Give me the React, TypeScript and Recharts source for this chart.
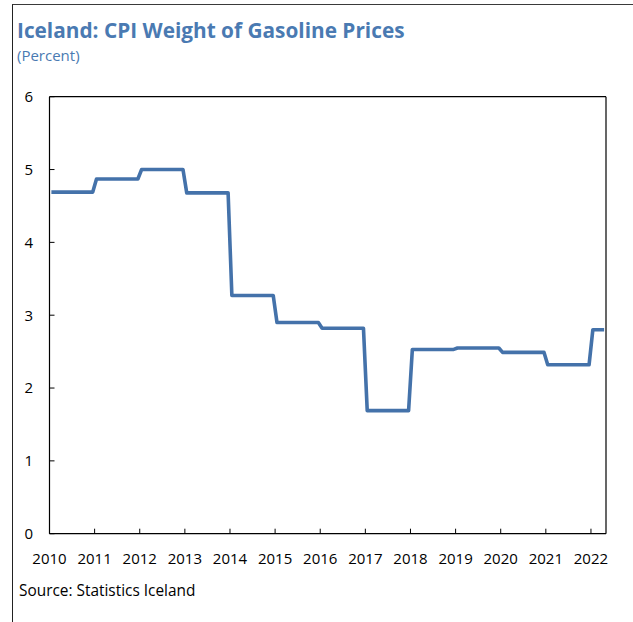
import { LineChart, Line, XAxis, YAxis, ReferenceLine } from 'recharts';

// CPI weight of gasoline (percent), one value per calendar year
const years = [2010, 2011, 2012, 2013, 2014, 2015, 2016, 2017, 2018, 2019, 2020, 2021, 2022];
const weights = [4.69, 4.87, 5.0, 4.68, 3.27, 2.9, 2.82, 1.69, 2.53, 2.55, 2.49, 2.32, 2.8];
// months of each year covered by the series (2022 runs through April)
const monthsObserved = [12, 12, 12, 12, 12, 12, 12, 12, 12, 12, 12, 12, 4];
const yTicks = [0, 1, 2, 3, 4, 5, 6];

// monthly points sit mid-month; first and last month of each year carry the year's weight
const data = years.flatMap((yr, i) => [
  { t: yr + 0.5 / 12, v: weights[i] },
  { t: yr + (monthsObserved[i] - 0.5) / 12, v: weights[i] },
]);

const FONT = '"Open Sans", "Noto Sans", sans-serif';
const BLUE = '#4472aa';
const tickStyle = { fill: '#000', fontSize: 15, fontFamily: FONT };

export default function App() {
  return (
    <div
      style={{
        position: 'absolute',
        left: 0,
        top: 0,
        width: 633,
        height: 622,
        background: '#fff',
        overflow: 'hidden',
        fontFamily: FONT,
      }}
    >
      {/* outer frame, only top and left edges are in view */}
      <div
        style={{
          position: 'absolute',
          left: 12,
          top: 4,
          width: 640,
          height: 640,
          borderTop: '1.5px solid #3a3a3a',
          borderLeft: '1.5px solid #222',
        }}
      />
      <div
        style={{
          position: 'absolute',
          left: 17,
          top: 19.8,
          fontSize: 20.8,
          lineHeight: '20.8px',
          fontWeight: 700,
          color: '#4a7ab2',
          whiteSpace: 'nowrap',
        }}
      >
        Iceland: CPI Weight of Gasoline Prices
      </div>
      <div
        style={{
          position: 'absolute',
          left: 17,
          top: 47.7,
          fontSize: 15,
          lineHeight: '15px',
          color: '#4a7ab2',
          whiteSpace: 'nowrap',
        }}
      >
        (Percent)
      </div>
      <div
        style={{
          position: 'absolute',
          left: 19,
          top: 583,
          fontSize: 15.4,
          lineHeight: '15.4px',
          color: '#000',
          whiteSpace: 'nowrap',
        }}
      >
        Source: Statistics Iceland
      </div>

      <div style={{ position: 'absolute', left: 0, top: 0 }}>
        <LineChart
          width={633}
          height={622}
          data={data}
          margin={{ top: 96.7, right: 0, bottom: 58.3, left: 0 }}
        >
          <XAxis
            dataKey="t"
            type="number"
            domain={[2010, 2022 + 4 / 12]}
            ticks={years}
            allowDataOverflow
            interval={0}
            height={30}
            tickSize={-5}
            tickMargin={25}
            axisLine={{ stroke: '#000', strokeWidth: 1.2 }}
            tickLine={{ stroke: '#000' }}
            tick={tickStyle}
          />
          <YAxis
            yAxisId="left"
            orientation="left"
            domain={[0, 6]}
            ticks={yTicks}
            width={49.5}
            tickSize={-5}
            tickMargin={21.5}
            axisLine={{ stroke: '#000', strokeWidth: 1.2 }}
            tickLine={{ stroke: '#000' }}
            tick={tickStyle}
          />
          <YAxis
            yAxisId="right"
            orientation="right"
            domain={[0, 6]}
            ticks={yTicks}
            width={27}
            tickSize={-5}
            tickMargin={21}
            axisLine={{ stroke: '#000', strokeWidth: 1.2 }}
            tickLine={{ stroke: '#000' }}
            tick={tickStyle}
          />
          <ReferenceLine yAxisId="left" y={6} stroke="#000" strokeWidth={1.2} />
          <Line
            yAxisId="left"
            dataKey="v"
            type="linear"
            stroke={BLUE}
            strokeWidth={3.6}
            strokeLinejoin="round"
            dot={false}
            activeDot={false}
            isAnimationActive={false}
          />
        </LineChart>
      </div>
    </div>
  );
}
